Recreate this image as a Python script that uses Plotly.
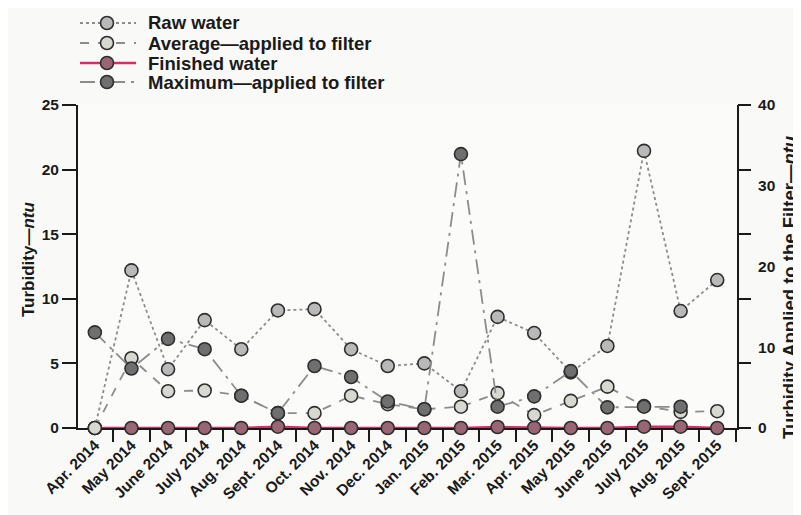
import plotly.graph_objects as go

months = [
    "Apr. 2014", "May 2014", "June 2014", "July 2014", "Aug. 2014", "Sept. 2014",
    "Oct. 2014", "Nov. 2014", "Dec. 2014", "Jan. 2015", "Feb. 2015", "Mar. 2015",
    "Apr. 2015", "May 2015", "June 2015", "July 2015", "Aug. 2015", "Sept. 2015",
]

raw_water = [0.0, 12.2, 4.55, 8.35, 6.1, 9.1, 9.2, 6.1, 4.8, 5.0, 2.85, 8.6,
             7.35, 4.3, 6.35, 21.45, 9.05, 11.45]
avg_applied = [0.0, 5.4, 2.85, 2.9, 2.5, 1.15, 1.15, 2.5, 1.85, 1.45, 1.65, 2.7,
               1.0, 2.1, 3.2, 1.7, 1.25, 1.3]
finished = [0.0, 0.0, 0.0, 0.0, 0.0, 0.1, 0.0, 0.0, 0.0, 0.0, 0.0, 0.08,
            0.03, 0.0, 0.0, 0.1, 0.1, 0.0]
max_applied = [7.4, 4.6, 6.9, 6.1, 2.5, 1.15, 4.8, 3.95, 2.05, 1.45, 21.2, 1.65,
               2.45, 4.4, 1.6, 1.65, 1.65, None]

left_ticks = [0, 5, 10, 15, 20, 25]
right_ticks = [0, 10, 20, 30, 40]

INK = "#1a1a1a"
LINE_GRAY = "#8c8c8c"
RED = "#d0306a"
FONT = dict(family="Liberation Sans, Arial, sans-serif", size=14, color=INK, weight="bold")

# the page body adds an 8px margin, so the figure is shrunk by that much
BODY = 8
W, H = 801 - BODY, 515 - BODY
ML, MR, MT, MB = 78 - BODY, 64, 105 - BODY, 87
PW, PH = W - ML - MR, H - MT - MB

# (name, values, dash, line colour, marker colour, line width)
series = {
    "raw": ("Raw water", raw_water, "dot", LINE_GRAY, "#b9b9b9", 1.8),
    "avg": ("Average\u2014applied to filter", avg_applied, "dash", LINE_GRAY, "#d8d8d2", 1.8),
    "fin": ("Finished water", finished, "solid", RED, "#9a6676", 2.4),
    "max": ("Maximum\u2014applied to filter", max_applied, "longdashdot", LINE_GRAY, "#6f6f6f", 1.8),
}

fig = go.Figure()

# drawing order differs from legend order so overlaps look like the original
for key in ["fin", "raw", "avg", "max"]:
    name, vals, dash, lc, mc, lw = series[key]
    fig.add_trace(go.Scatter(
        x=months, y=vals, name=name, mode="lines+markers",
        line=dict(color=lc, width=lw, dash=dash),
        marker=dict(size=13, color=mc, line=dict(color="#2e2e2e", width=1.6)),
        cliponaxis=False, showlegend=False,
    ))

# empty traces so the right-hand axes are drawn
fig.add_trace(go.Scatter(x=[months[0]], y=[None], yaxis="y2", showlegend=False, hoverinfo="skip"))
fig.add_trace(go.Scatter(x=[months[0]], y=[None], yaxis="y3", showlegend=False, hoverinfo="skip"))


def px_x(px):
    # screen pixel -> paper fraction
    return (px - BODY - ML) / PW


def px_y(py):
    return (H - MB - (py - BODY)) / PH


# hand-drawn legend in the top margin
legend_rows = [("raw", 23), ("avg", 43), ("fin", 63), ("max", 82)]
for key, row_y in legend_rows:
    name, _, dash, lc, mc, lw = series[key]
    fig.add_shape(type="line", xref="paper", yref="paper",
                  x0=px_x(80), x1=px_x(136), y0=px_y(row_y), y1=px_y(row_y),
                  line=dict(color=lc, width=lw, dash=dash))
    cx, r = 107, 6.5
    fig.add_shape(type="circle", xref="paper", yref="paper",
                  x0=px_x(cx - r), x1=px_x(cx + r), y0=px_y(row_y + r), y1=px_y(row_y - r),
                  fillcolor=mc, line=dict(color="#2e2e2e", width=1.6))
    fig.add_annotation(text=name, xref="paper", yref="paper",
                       x=px_x(146), y=px_y(row_y), xanchor="left", yanchor="middle",
                       showarrow=False, font=dict(size=18.5, weight="bold"))

fig.update_layout(
    width=W, height=H,
    margin=dict(l=ML, r=MR, t=MT, b=MB, autoexpand=False),
    paper_bgcolor="#f9f9f7", plot_bgcolor="#fbfbfa",
    font=FONT,
    showlegend=False,
    xaxis=dict(
        type="category", range=[-0.46, 17.54], tickson="boundaries",
        showline=True, linecolor=INK, linewidth=2, layer="below traces",
        ticks="outside", ticklen=12, tickwidth=1.5, tickcolor=INK,
        tickangle=-45, tickfont=dict(size=15.5, weight="bold"),
        showgrid=False, zeroline=False,
    ),
    yaxis=dict(
        range=[0, 25], tickvals=left_ticks,
        showline=True, linecolor=INK, linewidth=2, layer="below traces",
        ticks="outside", ticklen=14, tickwidth=1.5, tickcolor=INK,
        tickfont=dict(size=15.5, weight="bold"),
        showgrid=False, zeroline=False,
    ),
    yaxis2=dict(
        range=[0, 40], tickvals=right_ticks, overlaying="y", side="right",
        showline=True, linecolor=INK, linewidth=2, ticks="",
        tickfont=dict(size=15.5, weight="bold"), ticklabelstandoff=16,
        showgrid=False, zeroline=False,
    ),
    yaxis3=dict(
        range=[0, 25], tickvals=left_ticks, overlaying="y", side="right",
        showline=False, ticks="outside", ticklen=13, tickwidth=1.5, tickcolor=INK,
        showticklabels=False, showgrid=False, zeroline=False,
    ),
)

fig.add_annotation(
    text="Turbidity\u2014<i>ntu</i>", xref="paper", yref="paper",
    x=px_x(28), y=px_y(260), textangle=-90, showarrow=False,
    font=dict(size=17, weight="bold"), xanchor="center", yanchor="middle",
)
fig.add_annotation(
    text="Turbidity Applied to the Filter\u2014<i>ntu</i>", xref="paper", yref="paper",
    x=px_x(789), y=px_y(287), textangle=-90, showarrow=False,
    font=dict(size=18.5, weight="bold"), xanchor="center", yanchor="middle",
)

fig.write_html("out.html")
